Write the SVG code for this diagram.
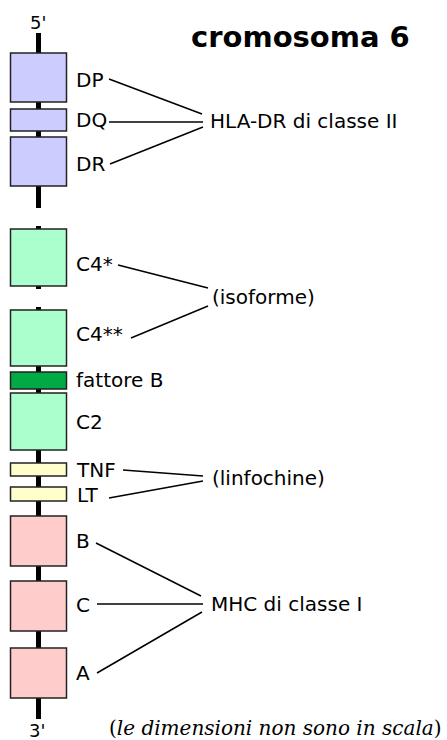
<svg xmlns="http://www.w3.org/2000/svg" width="447" height="740" viewBox="0 0 447 740">
  <style>
    text { font-family: "DejaVu Sans", "Bitstream Vera Sans", sans-serif; fill: #000; }
    .lbl { font-size: 20px; }
    .end { font-size: 18px; }
    .title { font-size: 29px; font-weight: bold; }
    .note { font-family: "DejaVu Serif", serif; font-size: 20px; }
    .spine { stroke: #000; stroke-width: 5; fill: none; }
    .gene { stroke: #222; stroke-width: 1.5; }
    .cls2 { fill: #ccccff; }
    .comp { fill: #aaffcc; }
    .facb { fill: #00aa44; }
    .lymph { fill: #ffffcc; }
    .cls1 { fill: #ffcccc; }
    #connectors line { stroke: #000; stroke-width: 1.5; }
  </style>
  <rect width="447" height="740" fill="#fff"/>

  <text class="title" x="191" y="47">cromosoma 6</text>

  <!-- chromosome backbone -->
  <g id="backbone">
    <line class="spine" x1="38.5" y1="33" x2="38.5" y2="208"/>
    <line class="spine" x1="38.5" y1="226" x2="38.5" y2="289"/>
    <line class="spine" x1="38.5" y1="307" x2="38.5" y2="719"/>
    <text class="end" x="30" y="29">5'</text>
    <text class="end" x="29" y="737">3'</text>
  </g>

  <!-- class II region -->
  <g id="DP"><rect class="gene cls2" x="10.5" y="53" width="56" height="49"/><text class="lbl" x="76" y="86.5">DP</text></g>
  <g id="DQ"><rect class="gene cls2" x="10.5" y="109" width="56" height="22"/><text class="lbl" x="76" y="127">DQ</text></g>
  <g id="DR"><rect class="gene cls2" x="10.5" y="137" width="56" height="49"/><text class="lbl" x="76" y="171">DR</text></g>

  <!-- class III region -->
  <g id="C4a"><rect class="gene comp" x="10.5" y="229" width="56" height="57"/><text class="lbl" x="76" y="271">C4*</text></g>
  <g id="C4b"><rect class="gene comp" x="10.5" y="310" width="56" height="56"/><text class="lbl" x="76" y="341">C4**</text></g>
  <g id="fattoreB"><rect class="gene facb" x="10.5" y="372" width="56" height="17"/><text class="lbl" x="76" y="387">fattore B</text></g>
  <g id="C2"><rect class="gene comp" x="10.5" y="393" width="56" height="57"/><text class="lbl" x="76" y="429">C2</text></g>
  <g id="TNF"><rect class="gene lymph" x="10.5" y="463" width="56" height="13"/><text class="lbl" x="77" y="477">TNF</text></g>
  <g id="LT"><rect class="gene lymph" x="10.5" y="487" width="56" height="14"/><text class="lbl" x="77" y="502">LT</text></g>

  <!-- class I region -->
  <g id="B"><rect class="gene cls1" x="10.5" y="516" width="56" height="50"/><text class="lbl" x="76" y="548">B</text></g>
  <g id="C"><rect class="gene cls1" x="10.5" y="581" width="56" height="50"/><text class="lbl" x="76" y="612">C</text></g>
  <g id="A"><rect class="gene cls1" x="10.5" y="648" width="56" height="50"/><text class="lbl" x="76" y="680">A</text></g>

  <!-- group labels -->
  <g id="HLA-DR"><text class="lbl" x="210" y="128">HLA-DR di classe II</text></g>
  <g id="isoforme"><text class="lbl" x="212" y="304">(isoforme)</text></g>
  <g id="linfochine"><text class="lbl" x="212" y="485">(linfochine)</text></g>
  <g id="MHC"><text class="lbl" x="211" y="611">MHC di classe I</text></g>

  <g id="connectors">
    <line x1="109" y1="79" x2="202" y2="114"/>
    <line x1="109" y1="122" x2="203" y2="122"/>
    <line x1="110" y1="164" x2="203" y2="127"/>
    <line x1="118" y1="265" x2="208" y2="288"/>
    <line x1="131" y1="338" x2="208" y2="306"/>
    <line x1="123" y1="470" x2="203" y2="476"/>
    <line x1="109" y1="498" x2="203" y2="481"/>
    <line x1="96" y1="543" x2="201" y2="596"/>
    <line x1="97" y1="604" x2="203" y2="604"/>
    <line x1="97" y1="673" x2="202" y2="612"/>
  </g>

  <text class="note" x="109" y="735">(<tspan font-style="italic">le dimensioni non sono in scala</tspan>)</text>
</svg>
